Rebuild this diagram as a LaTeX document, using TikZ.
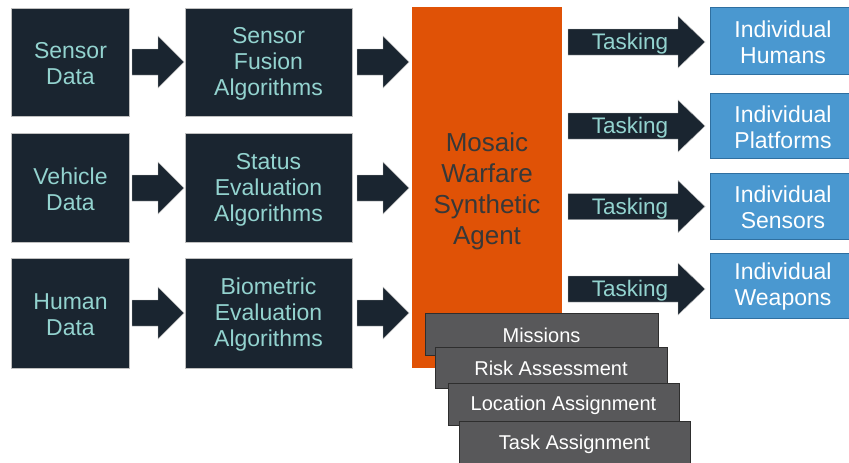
\documentclass[tikz,border=0pt]{standalone}
\usepackage{fontspec}
\setmainfont{Liberation Sans}
\definecolor{navy}{HTML}{1A2530}
\definecolor{tealtxt}{HTML}{93D3CF}
\definecolor{orng}{HTML}{E05206}
\definecolor{bluebox}{HTML}{4A98D0}
\definecolor{blueedge}{HTML}{2F6FA0}
\definecolor{graybox}{HTML}{58585A}
\definecolor{grayedge}{HTML}{2E2E2E}
\newcommand\blockarrow[6]{% x0, xhead, xtip, yc, shaft half, head half
  \fill[navy,draw=gray!50,line width=0.4pt] (#1,#4-#5) -- (#2,#4-#5) -- (#2,#4-#6) -- (#3,#4) -- (#2,#4+#6) -- (#2,#4+#5) -- (#1,#4+#5) -- cycle;}
\tikzset{
  darkbox/.style={fill=navy,draw=gray!50,line width=0.5pt,inner sep=0pt},
  darktxt/.style={text=tealtxt,align=center,font=\fontsize{23}{26}\selectfont,inner sep=0pt},
  bluenode/.style={fill=bluebox,draw=blueedge,line width=1pt,inner sep=0pt},
  bluetxt/.style={text=white,align=center,font=\fontsize{23}{26}\selectfont,inner sep=0pt},
  graynode/.style={fill=graybox,draw=grayedge,line width=0.8pt,inner sep=0pt},
  graytxt/.style={text=white,font=\fontsize{20}{23}\selectfont,inner sep=0pt},
  tasktxt/.style={text=tealtxt,font=\fontsize{22.5}{26}\selectfont,inner sep=0pt},
}
\begin{document}
\begin{tikzpicture}[x=1pt,y=-1pt]
\useasboundingbox[fill=white] (0,0) rectangle (849,463);
% left column
\node[darkbox,minimum width=118pt,minimum height=108pt] (sd) at (70.5,62) {};
\node[darktxt] at ([yshift=-2pt]sd.center) {Sensor\\Data};
\node[darkbox,minimum width=118pt,minimum height=109pt] (vd) at (70.5,187.5) {};
\node[darktxt] at ([yshift=-2pt]vd.center) {Vehicle\\Data};
\node[darkbox,minimum width=118pt,minimum height=110pt] (hd) at (70.5,313) {};
\node[darktxt] at ([yshift=-2pt]hd.center) {Human\\Data};
% second column
\node[darkbox,minimum width=167pt,minimum height=108pt] (sf) at (268.5,62) {};
\node[darktxt] at ([yshift=-2pt]sf.center) {Sensor\\Fusion\\Algorithms};
\node[darkbox,minimum width=167pt,minimum height=109pt] (se) at (268.5,187.5) {};
\node[darktxt] at ([yshift=-2pt]se.center) {Status\\Evaluation\\Algorithms};
\node[darkbox,minimum width=167pt,minimum height=110pt] (be) at (268.5,313) {};
\node[darktxt] at ([yshift=-2pt]be.center) {Biometric\\Evaluation\\Algorithms};
% arrows col1 -> col2
\blockarrow{132}{158}{184}{62}{13}{26}
\blockarrow{132}{158}{184}{188}{13}{26}
\blockarrow{132}{158}{184}{313}{13}{26}
% arrows col2 -> agent
\blockarrow{357}{383}{409}{62}{13}{26}
\blockarrow{357}{383}{409}{188}{13}{26}
\blockarrow{357}{383}{409}{313}{13}{26}
% agent
\node[fill=orng,minimum width=150pt,minimum height=361pt,inner sep=0pt] (agent) at (487,187.5) {};
\node[text=black!78,align=center,font=\fontsize{26}{31}\selectfont,inner sep=0pt]
  at ([yshift=-3.5pt]agent.center) {Mosaic\\Warfare\\Synthetic\\Agent};
% tasking arrows
\blockarrow{568}{678}{705}{42}{13}{26}
\node[tasktxt] (t1) at (630,44) {Tasking};
\blockarrow{568}{678}{705}{126}{13}{26}
\node[tasktxt] (t2) at (630,128) {Tasking};
\blockarrow{568}{678}{705}{206.5}{13}{26}
\node[tasktxt] (t3) at (630,208.5) {Tasking};
\blockarrow{568}{678}{705}{289}{13}{26}
\node[tasktxt] (t4) at (630,291) {Tasking};
% blue boxes
\node[bluenode,minimum width=146pt,minimum height=67pt] (ih) at (783,40.5) {};
\node[bluetxt] at ([yshift=-1.5pt]ih.center) {Individual\\Humans};
\node[bluenode,minimum width=146pt,minimum height=65pt] (ip) at (783,125.5) {};
\node[bluetxt] at ([yshift=-1.5pt]ip.center) {Individual\\Platforms};
\node[bluenode,minimum width=146pt,minimum height=66pt] (is) at (783,206) {};
\node[bluetxt] at ([yshift=-1.5pt]is.center) {Individual\\Sensors};
\node[bluenode,minimum width=146pt,minimum height=65pt] (iw) at (783,285.5) {};
\node[bluetxt] at ([yshift=-1.5pt]iw.center) {Individual\\Weapons};
% gray stacked boxes
\node[graynode,minimum width=233pt,minimum height=42pt] (mi) at (541.5,334) {};
\node[graytxt] at ([yshift=-1pt]mi.center) {Missions};
\node[graynode,minimum width=232pt,minimum height=41pt] (ra) at (551,367.5) {};
\node[graytxt] at ([yshift=-1pt]ra.center) {Risk Assessment};
\node[graynode,minimum width=231pt,minimum height=42pt] (la) at (563.5,404) {};
\node[graytxt] at ([yshift=-1pt]la.center) {Location Assignment};
\node[graynode,minimum width=231pt,minimum height=44pt] (ta) at (574.5,443) {};
\node[graytxt] at ([yshift=-1pt]ta.center) {Task Assignment};
\end{tikzpicture}
\end{document}
